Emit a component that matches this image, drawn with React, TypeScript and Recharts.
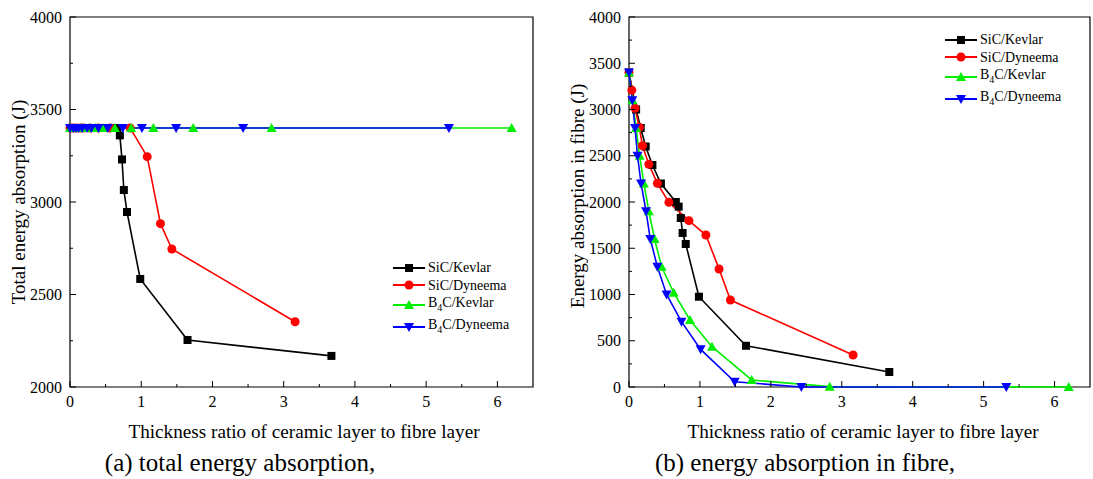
import { LineChart, Line, XAxis, YAxis, ReferenceArea } from "recharts";

const FONT = '"Liberation Serif", "Times New Roman", serif';

// thickness ratio (x) for each configuration
const SIC_KEVLAR_X = [0, 0.1, 0.165, 0.235, 0.33, 0.45, 0.66, 0.7, 0.73, 0.756, 0.8, 0.986, 1.65, 3.67];
const SIC_DYNEEMA_X = [0, 0.04, 0.085, 0.145, 0.19, 0.28, 0.4, 0.563, 0.845, 1.084, 1.27, 1.43, 3.16];
const B4C_KEVLAR_X = [0, 0.05, 0.1, 0.15, 0.21, 0.28, 0.36, 0.46, 0.63, 0.86, 1.17, 1.73, 2.83, 6.2];
const B4C_DYNEEMA_X = [0, 0.047, 0.085, 0.12, 0.17, 0.24, 0.3, 0.4, 0.53, 0.74, 1.01, 1.49, 2.43, 5.32];

// (a) total energy absorption (J)
const SIC_KEVLAR_TOTAL = [3400, 3400, 3400, 3400, 3400, 3400, 3400, 3360, 3230, 3065, 2946, 2584, 2254, 2168];
const SIC_DYNEEMA_TOTAL = [3400, 3400, 3400, 3400, 3400, 3400, 3400, 3400, 3400, 3245, 2883, 2746, 2353];
const B4C_KEVLAR_TOTAL = [3400, 3400, 3400, 3400, 3400, 3400, 3400, 3400, 3400, 3400, 3400, 3400, 3400, 3400];
const B4C_DYNEEMA_TOTAL = [3400, 3400, 3400, 3400, 3400, 3400, 3400, 3400, 3400, 3400, 3400, 3400, 3400, 3400];

// (b) energy absorption in fibre (J)
const SIC_KEVLAR_FIBRE = [3400, 3000, 2800, 2600, 2400, 2200, 2000, 1950, 1827, 1665, 1546, 976, 446, 162];
const SIC_DYNEEMA_FIBRE = [3400, 3210, 3013, 2807, 2608, 2407, 2202, 1996, 1798, 1643, 1276, 940, 346];
const B4C_KEVLAR_FIBRE = [3400, 3100, 2800, 2500, 2200, 1900, 1600, 1300, 1020, 724, 436, 76, 4, 0];
const B4C_DYNEEMA_FIBRE = [3400, 3100, 2800, 2500, 2200, 1900, 1600, 1300, 1000, 706, 407, 57, 0, 0];

const X_TICKS = [0, 0.5, 1, 1.5, 2, 2.5, 3, 3.5, 4, 4.5, 5, 5.5, 6];
const X_LABELS = [0, 1, 2, 3, 4, 5, 6];
const Y_TICKS_A = [2000, 2250, 2500, 2750, 3000, 3250, 3500, 3750, 4000];
const Y_LABELS_A = [2000, 2500, 3000, 3500, 4000];
const Y_TICKS_B = [0, 250, 500, 750, 1000, 1250, 1500, 1750, 2000, 2250, 2500, 2750, 3000, 3250, 3500, 3750, 4000];
const Y_LABELS_B = [0, 500, 1000, 1500, 2000, 2500, 3000, 3500, 4000];

const zip = (xs: number[], ys: number[]) => xs.map((x, i) => ({ x, y: ys[i] }));

const squareDot = (p: any) => (
  <rect key={p.index} x={p.cx - 4} y={p.cy - 4} width={8} height={8} fill="#000" />
);
const circleDot = (p: any) => <circle key={p.index} cx={p.cx} cy={p.cy} r={4.5} fill="#ff0000" />;
const upDot = (p: any) => (
  <polygon
    key={p.index}
    points={`${p.cx},${p.cy - 5} ${p.cx - 5},${p.cy + 4} ${p.cx + 5},${p.cy + 4}`}
    fill="#00ee00"
  />
);
const downDot = (p: any) => (
  <polygon
    key={p.index}
    points={`${p.cx},${p.cy + 5} ${p.cx - 5},${p.cy - 4} ${p.cx + 5},${p.cy - 4}`}
    fill="#0000ff"
  />
);

const SERIES = [
  { name: "SiC/Kevlar", sub: false, color: "#000000", dot: squareDot },
  { name: "SiC/Dyneema", sub: false, color: "#ff0000", dot: circleDot },
  { name: "B4C/Kevlar", sub: true, color: "#00ee00", dot: upDot },
  { name: "B4C/Dyneema", sub: true, color: "#0000ff", dot: downDot },
];

const tickText = { fontFamily: FONT, fontSize: 16 };

function makeXTick(labels: number[]) {
  return (props: any) => {
    const { x, y, payload } = props;
    const major = labels.includes(payload.value);
    return (
      <g>
        <line x1={x} y1={y} x2={x} y2={y - (major ? 6 : 3)} stroke="#000" />
        {major && (
          <text x={x} y={y + 20} textAnchor="middle" style={tickText} fill="#000">
            {payload.value}
          </text>
        )}
      </g>
    );
  };
}

function makeYTick(labels: number[]) {
  return (props: any) => {
    const { x, y, payload } = props;
    const major = labels.includes(payload.value);
    return (
      <g>
        <line x1={x} y1={y} x2={x + (major ? 6 : 3)} y2={y} stroke="#000" />
        {major && (
          <text x={x - 8} y={y} dy="0.35em" textAnchor="end" style={tickText} fill="#000">
            {payload.value}
          </text>
        )}
      </g>
    );
  };
}

function LegendBox({ left, top }: { left: number; top: number }) {
  return (
    <div style={{ position: "absolute", left, top, fontFamily: FONT, fontSize: 14, lineHeight: "17.5px" }}>
      {SERIES.map((s) => (
        <div key={s.name} style={{ display: "flex", alignItems: "center", whiteSpace: "nowrap" }}>
          <svg width={34} height={12} style={{ marginRight: 2 }}>
            <line x1={1} y1={6} x2={33} y2={6} stroke={s.color} strokeWidth={2} />
            {s.dot({ cx: 17, cy: 6, index: 0 })}
          </svg>
          <span>
            {s.sub ? (
              <>
                B<sub style={{ fontSize: 10 }}>4</sub>C{s.name.slice(3)}
              </>
            ) : (
              s.name
            )}
          </span>
        </div>
      ))}
    </div>
  );
}

function Panel(props: {
  width: number;
  margin: { top: number; right: number; bottom: number; left: number };
  yDomain: [number, number];
  yTicks: number[];
  yLabels: number[];
  values: number[][];
}) {
  const xs = [SIC_KEVLAR_X, SIC_DYNEEMA_X, B4C_KEVLAR_X, B4C_DYNEEMA_X];
  return (
    <LineChart width={props.width} height={479} margin={props.margin}>
      <XAxis
        type="number"
        dataKey="x"
        domain={[0, 6.5]}
        ticks={X_TICKS}
        height={30}
        axisLine={false}
        tickLine={false}
        tickSize={0}
        tickMargin={0}
        tick={makeXTick(X_LABELS)}
        interval={0}
      />
      <YAxis
        type="number"
        dataKey="y"
        domain={props.yDomain}
        ticks={props.yTicks}
        width={45}
        axisLine={false}
        tickLine={false}
        tickSize={0}
        tickMargin={0}
        tick={makeYTick(props.yLabels)}
        interval={0}
      />
      <ReferenceArea
        x1={0}
        x2={6.5}
        y1={props.yDomain[0]}
        y2={props.yDomain[1]}
        fill="none"
        fillOpacity={0}
        stroke="#000"
        strokeWidth={1.2}
      />
      {SERIES.map((s, i) => (
        <Line
          key={s.name}
          data={zip(xs[i], props.values[i])}
          dataKey="y"
          type="linear"
          stroke={s.color}
          strokeWidth={1.6}
          dot={s.dot}
          activeDot={false}
          isAnimationActive={false}
        />
      ))}
    </LineChart>
  );
}

const textStyle = (left: number, top: number, size: number, rotate = false): React.CSSProperties => ({
  position: "absolute",
  left,
  top,
  fontSize: size,
  fontFamily: FONT,
  whiteSpace: "nowrap",
  transform: `translate(-50%, -50%)${rotate ? " rotate(-90deg)" : ""}`,
  color: "#000",
});

export default function App() {
  return (
    <div style={{ position: "absolute", left: 0, top: 0, width: 1093, height: 479, background: "#fff", overflow: "hidden" }}>
      <div style={{ position: "absolute", left: 0, top: 0 }}>
        <Panel
          width={560}
          margin={{ top: 17, right: 27, bottom: 62, left: 25 }}
          yDomain={[2000, 4000]}
          yTicks={Y_TICKS_A}
          yLabels={Y_LABELS_A}
          values={[SIC_KEVLAR_TOTAL, SIC_DYNEEMA_TOTAL, B4C_KEVLAR_TOTAL, B4C_DYNEEMA_TOTAL]}
        />
      </div>
      <div style={{ position: "absolute", left: 560, top: 0 }}>
        <Panel
          width={533}
          margin={{ top: 17, right: 3, bottom: 62, left: 24 }}
          yDomain={[0, 4000]}
          yTicks={Y_TICKS_B}
          yLabels={Y_LABELS_B}
          values={[SIC_KEVLAR_FIBRE, SIC_DYNEEMA_FIBRE, B4C_KEVLAR_FIBRE, B4C_DYNEEMA_FIBRE]}
        />
      </div>
      <LegendBox left={392} top={259} />
      <LegendBox left={944} top={31} />
      <div style={textStyle(19, 202, 19, true)}>Total energy absorption (J)</div>
      <div style={textStyle(578, 196, 19, true)}>Energy absorption in fibre (J)</div>
      <div style={textStyle(304, 432, 19.2)}>Thickness ratio of ceramic layer to fibre layer</div>
      <div style={textStyle(863, 432, 19.2)}>Thickness ratio of ceramic layer to fibre layer</div>
      <div style={textStyle(240, 463, 25)}>(a) total energy absorption,</div>
      <div style={textStyle(805, 463, 25)}>(b) energy absorption in fibre,</div>
    </div>
  );
}
